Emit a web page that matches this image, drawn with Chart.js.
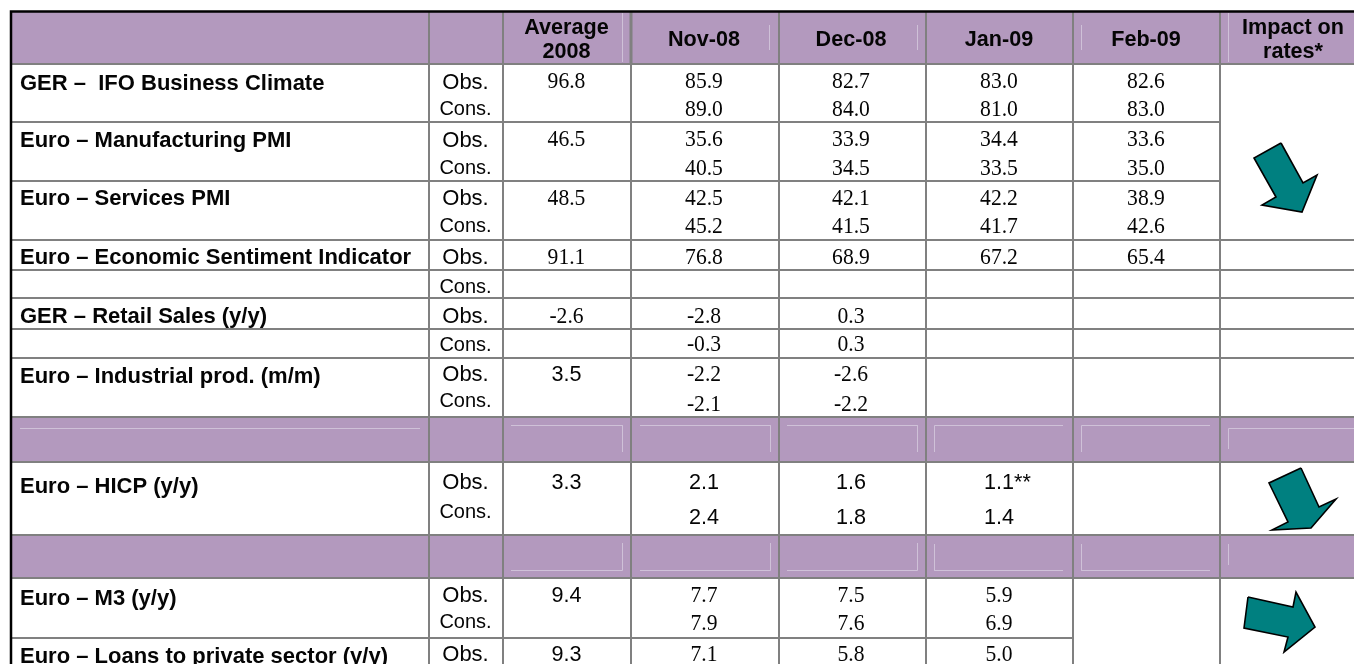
<!DOCTYPE html>
<html>
<head>
<meta charset="utf-8">
<style>html,body{margin:0;padding:0;background:#fff}canvas{display:block}</style>
<script src="https://cdn.jsdelivr.net/npm/chart.js@4"></script>
</head>
<body>
<canvas id="c" width="1354" height="664"></canvas>
<script>
// ---- table content ----
const headers = [["Average","2008"],["Nov-08"],["Dec-08"],["Jan-09"],["Feb-09"],["Impact on","rates*"]];
const indicators = ["GER –  IFO Business Climate","Euro – Manufacturing PMI","Euro – Services PMI","Euro – Economic Sentiment Indicator","GER – Retail Sales (y/y)","Euro – Industrial prod. (m/m)","Euro – HICP (y/y)","Euro – M3 (y/y)","Euro – Loans to private sector (y/y)"];
const rowKinds   = ["Obs.","Cons.","Obs.","Cons.","Obs.","Cons.","Obs.","Cons.","Obs.","Cons.","Obs.","Cons.","Obs.","Cons.","Obs.","Cons.","Obs."];
const average2008 = ["96.8","","46.5","","48.5","","91.1","","-2.6","","3.5","","3.3","","9.4","","9.3"];
const nov08 = ["85.9","89.0","35.6","40.5","42.5","45.2","76.8","","-2.8","-0.3","-2.2","-2.1","2.1","2.4","7.7","7.9","7.1"];
const dec08 = ["82.7","84.0","33.9","34.5","42.1","41.5","68.9","","0.3","0.3","-2.6","-2.2","1.6","1.8","7.5","7.6","5.8"];
const jan09 = ["83.0","81.0","34.4","33.5","42.2","41.7","67.2","","","","","","1.1**","1.4","5.9","6.9","5.0"];
const feb09 = ["82.6","83.0","33.6","35.0","38.9","42.6","65.4","","","","","","","","","",""];
// rows whose figures are set in the sans face
const sansCells = {average2008:[10,12,14,16], all:[12,13]};

// ---- layout, in table units (one unit per pixel of the picture) ----
const colLines = [429,503,631,779,926,1073,1220];
const headerCentres = [566.5,704,851,999,1146,1293];
const headerRowY = [[26,50],[38],[38],[38],[38],[26,50.5]];
const kindX = 465.5;
const rowY = [80,108,138,167,197,225,256,285,315,343,373,403,481,516,594,622,653];
const kindY = [81,107,139,166,197,224,256,285,315,343,373,399,481,510,594,620,653];
const indicatorY = [82,139,197,256,315,375,485,597,655];
const fullLines = [64,240,270,298,329,358,417,462,535,578];
const shortLines = [[122,1220],[181,1220],[638,1073]];
const bands = [[12,64],[417,462],[535,578]];
const lightLines = [
 [[622.5,13],[622.5,62]],[[769.5,25],[769.5,50]],[[917.5,25],[917.5,50]],[[1081.5,25],[1081.5,50]],[[1228.5,13],[1228.5,62]],
 [[20,428.5],[420,428.5]],
 [[511,425.5],[622.5,425.5],[622.5,452]],[[640,425.5],[770.5,425.5],[770.5,452]],[[787,425.5],[917.5,425.5],[917.5,452]],
 [[934.5,452],[934.5,425.5],[1063,425.5]],[[1081.5,452],[1081.5,425.5],[1210,425.5]],[[1228.5,449],[1228.5,428.5],[1354,428.5]],
 [[511,570.5],[622.5,570.5],[622.5,543]],[[640,570.5],[770.5,570.5],[770.5,543]],[[787,570.5],[917.5,570.5],[917.5,543]],
 [[934.5,544],[934.5,570.5],[1063,570.5]],[[1081.5,544],[1081.5,570.5],[1210,570.5]],[[1228.5,544],[1228.5,565]]
];
const arrows = [
 [[1281,143],[1254,158],[1276,197],[1262,205],[1302,212],[1317,175],[1303,183]],
 [[1301,468],[1269,483],[1288,522],[1272,530],[1311,528],[1336,499],[1319,507]],
 [[1248,597],[1244,628],[1288,637],[1284,652],[1315,627],[1296,592],[1293,607]]
];

const BAND="#b399be", GREY="#808080", LIGHT="#cfc1d8", TEAL="#008080", FONT_SIZE=21.6, SERIF_STRETCH=1.1;
const pts = a => a.map(p=>({x:p[0],y:p[1]}));
const seg = (ps,color,w,order)=>({type:'scatter',showLine:true,data:pts(ps),borderColor:color,borderWidth:w,pointRadius:0,tension:0,fill:false,order,clip:false,borderCapStyle:'butt'});
const poly = (ps,fillC,stroke,w,order)=>({type:'scatter',showLine:true,data:pts(ps.concat([ps[0]])),borderColor:stroke,borderWidth:w,backgroundColor:fillC,pointRadius:0,tension:0,fill:'shape',order,clip:false,borderJoinStyle:'miter'});

const datasets=[];
bands.forEach(b=>datasets.push(poly([[11,b[0]],[1354,b[0]],[1354,b[1]],[11,b[1]]],BAND,BAND,0,6)));
lightLines.forEach(l=>datasets.push(seg(l,LIGHT,1,5)));
fullLines.forEach(y=>datasets.push(seg([[11,y],[1354,y]],GREY,2,4)));
shortLines.forEach(s=>datasets.push(seg([[11,s[0]],[s[1],s[0]]],GREY,2,4)));
colLines.forEach(x=>datasets.push(seg([[x,12],[x,664]],GREY,2,3)));
datasets.push(seg([[631,12],[631,64]],GREY,3,3));
datasets.push(seg([[11,664],[11,11.5],[1354,11.5]],"#000",2.5,2));
arrows.forEach(a=>datasets.push(poly(a,TEAL,"#000",1.6,1)));

const columns = {average2008,nov08,dec08,jan09,feb09};
const tablePlugin = {
 id:'tableText',
 afterDatasetsDraw(chart){
  const {ctx,scales:{x:X,y:Y}}=chart;
  const px=v=>X.getPixelForValue(v), py=v=>Y.getPixelForValue(v);
  ctx.save();
  ctx.fillStyle="#050505"; ctx.textBaseline="alphabetic";
  const bold=`bold ${FONT_SIZE}px "Liberation Sans"`, sans=`${FONT_SIZE}px "Liberation Sans"`, serif=`${FONT_SIZE}px "Liberation Serif"`;
  // headers
  ctx.font=bold; ctx.textAlign="center";
  headers.forEach((h,i)=>h.forEach((t,j)=>ctx.fillText(t,px(headerCentres[i]),py(headerRowY[i][j])+7.7)));
  // indicators
  ctx.font='bold 22px "Liberation Sans"';
  ctx.textAlign="left";
  indicators.forEach((t,i)=>ctx.fillText(t,px(20),py(indicatorY[i])+7.7));
  // obs / cons
  ctx.textAlign="center";
  rowKinds.forEach((t,i)=>{ctx.font=(t==="Obs."?22:20)+'px "Liberation Sans"';ctx.fillText(t,px(kindX),py(kindY[i])+7.5);});
  // values
  ctx.textAlign="left";
  Object.keys(columns).forEach((k,c)=>{
   columns[k].forEach((t,r)=>{
    if(!t) return;
    const isSans=sansCells.all.includes(r)||(sansCells[k]||[]).includes(r);
    ctx.font=isSans?sans:serif;
    const plain=t.replace(/\*/g,'');
    const tx=px(headerCentres[c])-ctx.measureText(plain).width/2;
    if(isSans){ ctx.fillText(t,tx,py(rowY[r])+7.5); }
    else {
      ctx.save();
      ctx.translate(tx,py(rowY[r])+8);
      ctx.scale(1,SERIF_STRETCH);
      ctx.fillText(t,0,0);
      ctx.restore();
    }
   });
  });
  ctx.restore();
 }
};

new Chart(document.getElementById('c'),{
 type:'scatter',
 data:{datasets},
 options:{
  responsive:false,animation:false,
  layout:{padding:0},
  plugins:{legend:{display:false},title:{display:false},tooltip:{enabled:false}},
  events:[],
  scales:{
   x:{type:'linear',min:0,max:1354,display:false},
   y:{type:'linear',min:0,max:664,reverse:true,display:false}
  }
 },
 plugins:[tablePlugin]
});
</script>
</body>
</html>
